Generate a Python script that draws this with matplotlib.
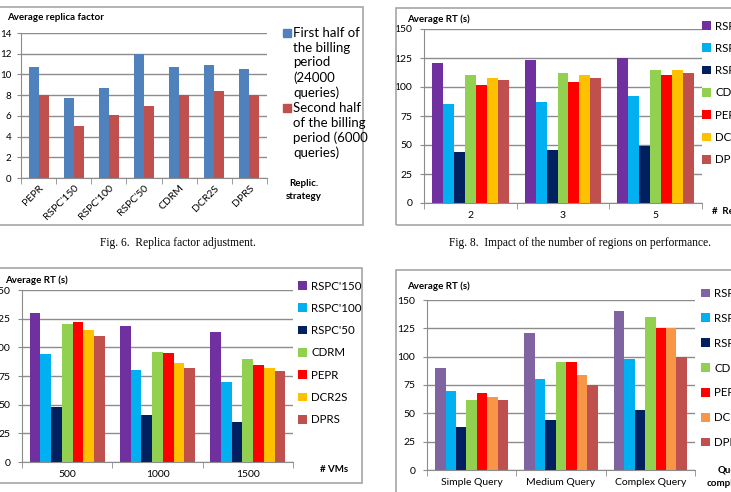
import numpy as np
import matplotlib
matplotlib.use("Agg")
from matplotlib import pyplot as plt
from matplotlib.patches import Rectangle

W, H = 731, 492

# Fig. 6 data
strategies = ["PEPR", "RSPC'150", "RSPC'100", "RSPC'50", "CDRM", "DCR2S", "DPRS"]
first_half = [10.7, 7.7, 8.7, 12.0, 10.7, 10.9, 10.5]
second_half = [8.0, 5.0, 6.1, 7.0, 8.0, 8.4, 8.0]
half_labels = ["First half of\nthe billing\nperiod\n(24000\nqueries)",
               "Second half\nof the billing\nperiod (6000\nqueries)"]

# series shared by the RT charts
series = ["RSPC'150", "RSPC'100", "RSPC'50", "CDRM", "PEPR", "DCR2S", "DPRS"]

# Fig. 8 data (regions)
regions = ["2", "3", "5"]
rt_regions = [
    [121, 123, 125],
    [85, 87, 92],
    [44, 46, 49],
    [110, 112, 115],
    [102, 104, 110],
    [108, 110, 115],
    [106, 108, 112],
]

# VMs chart
vms = ["500", "1000", "1500"]
rt_vms = [
    [130, 119, 113],
    [94, 80, 70],
    [48, 41, 35],
    [120, 96, 90],
    [122, 95, 85],
    [115, 86, 82],
    [110, 82, 79],
]

# query complexity chart
queries = ["Simple Query", "Medium Query", "Complex Query"]
rt_queries = [
    [90, 121, 140],
    [70, 80, 98],
    [38, 44, 53],
    [62, 95, 135],
    [68, 95, 125],
    [64, 84, 125],
    [62, 75, 100],
]

colors_a = ["#7030A0", "#00B0F0", "#002060", "#92D050", "#FF0000", "#FFC000", "#C0504D"]
colors_b = ["#8064A2", "#00B0F0", "#002060", "#92D050", "#FF0000", "#F79646", "#C0504D"]

plt.rcParams["font.family"] = ["Lato", "DejaVu Sans"]

fig = plt.figure(figsize=(W / 100, H / 100), dpi=100)


def px_axes(l, t, r, b):
    return fig.add_axes([l / W, 1 - b / H, (r - l) / W, (b - t) / H])


def fx(x):
    return x / W


def fy(y):
    return 1 - y / H


def frame(l, t, r, b):
    fig.patches.append(Rectangle((fx(l), fy(b)), fx(r - l), (b - t) / H,
                                 transform=fig.transFigure, fill=False,
                                 edgecolor="#a6a6a6", linewidth=1.2))


def style_axes(ax, n, ymax, step, labelsize=7.5):
    ax.set_xlim(-0.5, n - 0.5)
    ax.set_ylim(0, ymax)
    ax.set_yticks(np.arange(0, ymax + 0.1, step))
    ax.yaxis.grid(True, color="#8c8c8c", linewidth=1.0)
    ax.set_axisbelow(True)
    for s in ["top", "right"]:
        ax.spines[s].set_visible(False)
    ax.spines["left"].set_color("#8c8c8c")
    ax.spines["bottom"].set_color("#8c8c8c")
    ax.set_xticks(np.arange(n))
    ax.set_xticks(np.arange(-0.5, n, 1.0), minor=True)
    ax.tick_params(axis="x", which="major", length=0, labelsize=labelsize, pad=6)
    ax.tick_params(axis="x", which="minor", length=4, color="#8c8c8c")
    ax.tick_params(axis="y", length=3, color="#8c8c8c", labelsize=labelsize, pad=5.5)


def grouped(ax, cats, data, colors, group=0.83):
    n = len(data)
    w = group / n
    x = np.arange(len(cats))
    for i, (vals, c) in enumerate(zip(data, colors)):
        ax.bar(x - group / 2 + w * (i + 0.5), vals, w, color=c, label=series[i])
    ax.set_xticklabels(cats)


def rt_legend(ax, x, y, spacing):
    fig.legend(*ax.get_legend_handles_labels(), loc="upper left",
               bbox_to_anchor=(fx(x), fy(y)), frameon=False, fontsize=8.3,
               handlelength=0.8, handleheight=0.8, handletextpad=0.35,
               labelspacing=spacing, borderaxespad=0, borderpad=0)


# ---- Fig. 6: replica factor ----
frame(-5, 7, 363, 225)
ax1 = px_axes(21, 33, 267, 178)
style_axes(ax1, 7, 14, 2)
x = np.arange(len(strategies))
bw = 0.285
ax1.bar(x - bw / 2, first_half, bw, color="#4F81BD")
ax1.bar(x + bw / 2, second_half, bw, color="#C0504D")
ax1.set_xticklabels(strategies, rotation=45, ha="right", rotation_mode="anchor")
ax1.tick_params(axis="x", which="major", pad=4)
ax1.tick_params(axis="y", labelsize=7, pad=4)
fig.text(fx(7), fy(18), "Average replica factor", fontsize=7, fontweight="bold", va="center")
for lab, col, top in zip(half_labels, ["#4F81BD", "#C0504D"], [28, 103]):
    fig.patches.append(Rectangle((fx(283), fy(top + 9)), fx(8), 8 / H,
                                 transform=fig.transFigure, color=col))
    fig.text(fx(293), fy(top - 1), lab, fontsize=9.5, va="top", ha="left",
             linespacing=1.27)
fig.text(fx(304), fy(190), "Replic.\nstrategy", fontsize=7, fontweight="bold",
         ha="center", va="center", linespacing=1.6)
fig.text(fx(178), fy(243), "Fig. 6.  Replica factor adjustment.", fontsize=8.3,
         family="Liberation Serif", ha="center", va="center")

# ---- Fig. 8: regions ----
frame(396, 8, 745, 225)
ax2 = px_axes(424, 29, 702, 203)
style_axes(ax2, 3, 150, 25)
grouped(ax2, regions, rt_regions, colors_a)
fig.text(fx(407), fy(19), "Average RT (s)", fontsize=7, fontweight="bold", va="center")
rt_legend(ax2, 702, 20.5, 0.98)
fig.text(fx(712), fy(212), "#  Regions", fontsize=7, fontweight="bold", va="center")
fig.text(fx(580), fy(243), "Fig. 8.  Impact of the number of regions on performance.",
         fontsize=8.3, family="Liberation Serif", ha="center", va="center")

# ---- VMs ----
frame(-5, 268, 362, 483)
ax3 = px_axes(22, 290, 293, 462)
style_axes(ax3, 3, 150, 25)
grouped(ax3, vms, rt_vms, colors_a)
fig.text(fx(5), fy(280), "Average RT (s)", fontsize=7, fontweight="bold", va="center")
rt_legend(ax3, 298, 280.5, 0.98)
fig.text(fx(320), fy(470), "# VMs", fontsize=7, fontweight="bold", va="center")

# ---- query complexity ----
frame(396, 270, 745, 500)
ax4 = px_axes(427, 300, 695, 470)
style_axes(ax4, 3, 150, 25)
grouped(ax4, queries, rt_queries, colors_b, group=0.82)
fig.text(fx(407), fy(286), "Average RT (s)", fontsize=7, fontweight="bold", va="center")
rt_legend(ax4, 701, 288, 1.2)
fig.text(fx(731), fy(477), "Query\ncomplexity", fontsize=7, fontweight="bold",
         ha="center", va="center", linespacing=1.5)

fig.savefig("out.png", dpi=100)
